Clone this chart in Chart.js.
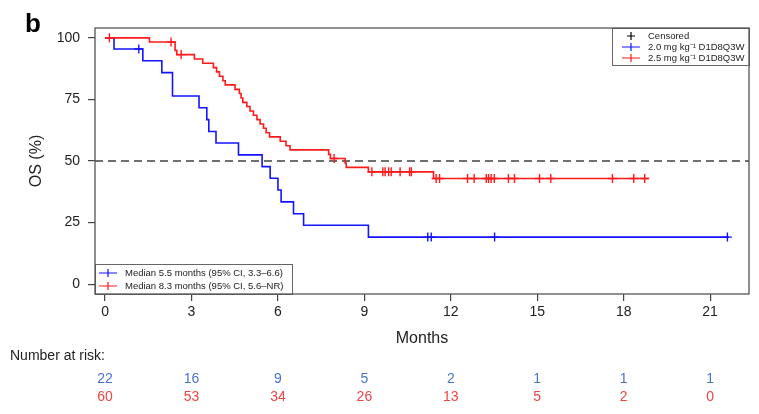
<!DOCTYPE html>
<html>
<head>
<meta charset="utf-8">
<script src="https://cdn.jsdelivr.net/npm/chart.js@4.4.1/dist/chart.umd.min.js"></script>
<style>
  html, body { margin: 0; padding: 0; background: #fff; }
  #chart { display: block; }
</style>
</head>
<body>
<canvas id="chart" width="759" height="414"></canvas>
<script>
/* DATA */
// AXES
const xTicks = [0, 3, 6, 9, 12, 15, 18, 21];
const yTicks = [0, 25, 50, 75, 100];
// 2.0 MG/KG ARM (BLUE): step times (months) and OS (%) after each step
const blueTimes = [0, 0.31, 1.31, 1.97, 2.34, 3.26, 3.53, 3.60, 3.85, 4.63, 5.45, 5.73, 6.00, 6.11, 6.54, 6.89, 9.14, 21.65];
const blueSurv = [100, 95.5, 90.7, 85.9, 76.4, 71.6, 66.8, 62.0, 57.3, 52.5, 47.7, 43.0, 38.2, 33.4, 28.6, 23.9, 19.1, 19.1];
const blueCensor = [1.17, 11.20, 11.32, 13.52, 21.60];
// 2.5 MG/KG ARM (RED)
const redTimes = [0, 1.54, 2.43, 2.49, 3.10, 3.39, 3.76, 3.87, 3.97, 4.09, 4.17, 4.51, 4.66, 4.72, 4.78, 4.92, 5.03, 5.15, 5.27, 5.38, 5.50, 5.59, 5.71, 6.08, 6.28, 6.42, 7.76, 7.82, 8.33, 8.37, 9.14, 11.40, 18.87];
const redSurv = [100, 98.3, 94.9, 93.2, 91.4, 89.7, 87.9, 86.2, 84.4, 82.6, 80.9, 79.1, 77.4, 75.6, 73.8, 72.1, 70.3, 68.6, 66.8, 65.0, 63.3, 61.5, 59.8, 58.0, 56.2, 54.5, 52.7, 51.0, 49.2, 47.4, 45.6, 42.9, 42.9];
const redCensor = [0.15, 2.29, 2.64, 7.95, 9.26, 9.64, 9.72, 9.84, 9.93, 10.24, 10.57, 10.63, 11.49, 11.61, 12.58, 12.81, 13.23, 13.31, 13.40, 13.51, 14.00, 14.21, 15.08, 15.47, 17.61, 18.35, 18.73];
// NUMBER AT RISK
const riskBlue = [22, 16, 9, 5, 2, 1, 1, 1];
const riskRed = [60, 53, 34, 26, 13, 5, 2, 0];
// TEXTS
const blueLabel = "2.0 mg kg\u207B\u00B9 D1D8Q3W";
const redLabel = "2.5 mg kg\u207B\u00B9 D1D8Q3W";
const blueMedian = "Median 5.5 months (95% CI, 3.3\u20136.6)";
const redMedian = "Median 8.3 months (95% CI, 5.6\u2013NR)";

const BLUE = "#1414ff";
const RED = "#ff1a1a";
const FONT = "'Liberation Sans', Arial, sans-serif";

// value of the step curve at time t
function survAt(times, surv, t) {
  let s = surv[0];
  for (let i = 0; i < times.length; i++) {
    if (times[i] <= t) s = surv[i];
  }
  return s;
}

const toPts = (times, surv) => times.map((t, i) => ({ x: t, y: surv[i] }));
const censorPts = (cens, times, surv) => cens.map((t) => ({ x: t, y: survAt(times, surv, t) }));

// small legend row: line sample + cross + text
function legendRow(ctx, x, y, color, text, line) {
  ctx.save();
  ctx.strokeStyle = color;
  ctx.lineWidth = 1.2;
  ctx.beginPath();
  if (line) {
    ctx.moveTo(x, y);
    ctx.lineTo(x + 18, y);
  }
  ctx.moveTo(x + 9, y - 4);
  ctx.lineTo(x + 9, y + 4);
  ctx.moveTo(x + 5, y);
  ctx.lineTo(x + 13, y);
  ctx.stroke();
  ctx.fillStyle = "#222";
  ctx.font = "9.5px " + FONT;
  ctx.textBaseline = "middle";
  ctx.textAlign = "left";
  ctx.fillText(text, x + 26, y);
  ctx.restore();
}

/* EXTRA DRAWING */
const extras = {
  id: "extras",
  beforeDatasetsDraw(chart) {
    const { ctx, chartArea, scales } = chart;
    const y50 = scales.y.getPixelForValue(50);
    ctx.save();
    ctx.strokeStyle = "#707070";
    ctx.lineWidth = 2;
    ctx.setLineDash([8, 5]);
    ctx.beginPath();
    ctx.moveTo(chartArea.left, y50);
    ctx.lineTo(chartArea.right, y50);
    ctx.stroke();
    ctx.restore();
  },
  afterDraw(chart) {
    const { ctx, chartArea, scales } = chart;
    const { left, right, top, bottom } = chartArea;

    // legend boxes
    ctx.save();
    ctx.fillStyle = "#fff";
    ctx.strokeStyle = "#666";
    ctx.lineWidth = 1;
    ctx.fillRect(612, top, right - 612, 37);
    ctx.strokeRect(612.5, top + 0.5, right - 612, 37);
    ctx.fillRect(left, 264, 197, bottom - 264);
    ctx.strokeRect(left + 0.5, 264.5, 197, bottom - 264);
    ctx.restore();

    legendRow(ctx, 622, 36, "#000", "Censored", false);
    legendRow(ctx, 622, 47, BLUE, blueLabel, true);
    legendRow(ctx, 622, 58, RED, redLabel, true);
    legendRow(ctx, 99, 273, BLUE, blueMedian, true);
    legendRow(ctx, 99, 286, RED, redMedian, true);

    // frame
    ctx.save();
    ctx.strokeStyle = "#555";
    ctx.lineWidth = 1.3;
    ctx.strokeRect(left, top, right - left, bottom - top);
    ctx.restore();

    // panel letter
    ctx.save();
    ctx.fillStyle = "#000";
    ctx.font = "bold 26px " + FONT;
    ctx.textBaseline = "alphabetic";
    ctx.fillText("b", 25, 32);

    // number at risk table
    ctx.font = "14px " + FONT;
    ctx.fillStyle = "#222";
    ctx.textBaseline = "middle";
    ctx.fillText("Number at risk:", 10, 356);
    ctx.textAlign = "center";
    xTicks.forEach((t, i) => {
      const px = scales.x.getPixelForValue(t);
      ctx.fillStyle = "#4a74c9";
      ctx.fillText(String(riskBlue[i]), px, 379);
      ctx.fillStyle = "#f04545";
      ctx.fillText(String(riskRed[i]), px, 397);
    });
    ctx.restore();
  },
};

/* CHART */
const chartCanvas = document.getElementById("chart");

new Chart(chartCanvas, {
  type: "line",
  data: {
    datasets: [
      {
        type: "scatter",
        data: censorPts(redCensor, redTimes, redSurv),
        borderColor: RED,
        pointStyle: "cross",
        pointRadius: 4.5,
        pointBorderWidth: 1.4,
        showLine: false,
      },
      {
        data: toPts(redTimes, redSurv),
        borderColor: RED,
        borderWidth: 1.6,
        stepped: true,
        pointRadius: 0,
        fill: false,
      },
      {
        type: "scatter",
        data: censorPts(blueCensor, blueTimes, blueSurv),
        borderColor: BLUE,
        pointStyle: "cross",
        pointRadius: 4.5,
        pointBorderWidth: 1.4,
        showLine: false,
      },
      {
        data: toPts(blueTimes, blueSurv),
        borderColor: BLUE,
        borderWidth: 1.6,
        stepped: true,
        pointRadius: 0,
        fill: false,
      },
    ],
  },
  options: {
    responsive: false,
    animation: false,
    events: [],
    layout: { padding: { top: 28, right: 10, left: 0, bottom: 0 } },
    plugins: {
      legend: { display: false },
      tooltip: { enabled: false },
    },
    scales: {
      x: {
        type: "linear",
        min: -0.35,
        max: 22.35,
        afterBuildTicks: (s) => {
          s.ticks = xTicks.map((v) => ({ value: v }));
        },
        afterFit: (s) => {
          s.height = 120;
        },
        grid: { drawOnChartArea: false, drawTicks: true, tickLength: 7, color: "#444", lineWidth: 1.2 },
        border: { display: false },
        ticks: { padding: 3, color: "#222", font: { size: 14, family: FONT }, maxRotation: 0, autoSkip: false },
        title: { display: true, text: "Months", color: "#222", font: { size: 16, family: FONT }, padding: { top: 0, bottom: 66 } },
      },
      y: {
        type: "linear",
        min: -4,
        max: 104,
        afterBuildTicks: (s) => {
          s.ticks = yTicks.map((v) => ({ value: v }));
        },
        afterFit: (s) => {
          s.width = 95;
        },
        grid: { drawOnChartArea: false, drawTicks: true, tickLength: 7, color: "#444", lineWidth: 1.2 },
        border: { display: false },
        ticks: { padding: 8, color: "#222", font: { size: 14, family: FONT } },
        title: { display: true, text: "OS (%)", color: "#222", font: { size: 16, family: FONT }, padding: { top: 27, bottom: 0 } },
      },
    },
  },
  plugins: [extras],
});
</script>
</body>
</html>
